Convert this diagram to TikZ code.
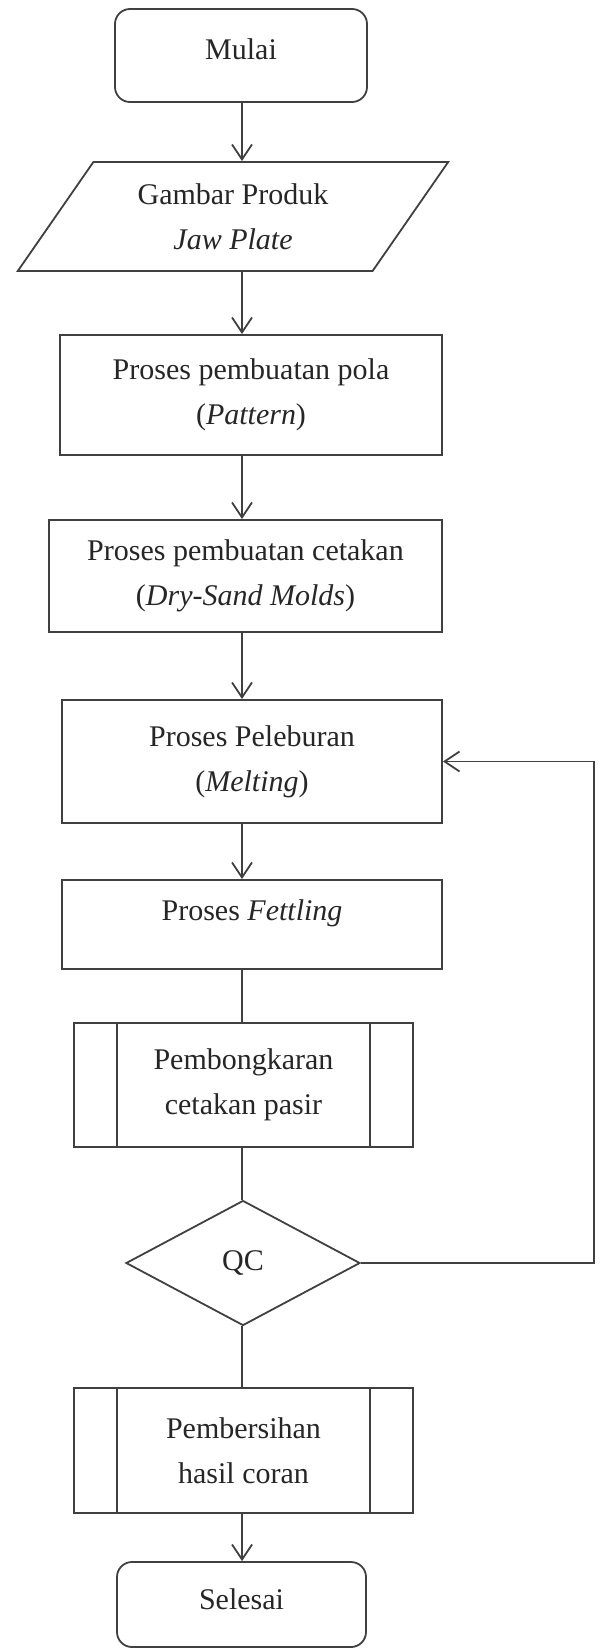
\documentclass[tikz,border=0pt]{standalone}
\usepackage{fontspec}
\setmainfont{Liberation Serif}
\usetikzlibrary{shapes.geometric,arrows.meta}

\begin{document}
\begin{tikzpicture}
  [x=1pt,y=-1pt,line width=1.8pt,color=black!75,
   every node/.style={draw=black!75,line width=1.8pt,inner sep=0pt,align=center,
     text=black!85,font=\fontsize{30}{45}\selectfont},
   term/.style={rectangle,rounded corners=15pt},
   io/.style={trapezium,trapezium left angle=52,trapezium right angle=128,trapezium stretches=true},
   proc/.style={rectangle},
   subproc/.style={rectangle,path picture={
     \draw ([xshift=43pt]path picture bounding box.north west) -- ([xshift=43pt]path picture bounding box.south west)
           ([xshift=-43pt]path picture bounding box.north east) -- ([xshift=-43pt]path picture bounding box.south east);}},
   decision/.style={diamond},
   arr/.style={-{Straight Barb[length=15pt,width=20pt]}}]
  \useasboundingbox (0,0) rectangle (602,1649);

  \coordinate (spine) at (242,0);
  \coordinate (loop) at (594,0);

  \node[term,minimum width=252pt,minimum height=93pt,text depth=12pt] (mulai) at (241,55.5) {Mulai};
  \node[io,minimum width=432pt,minimum height=109pt] (gambar) at (233,216.5) {Gambar Produk\\\textit{Jaw Plate}};
  \node[proc,minimum width=382pt,minimum height=120pt] (pola) at (251,395) {Proses pembuatan pola\\(\textit{Pattern})};
  \node[proc,minimum width=393pt,minimum height=112pt] (cetakan) at (245.5,576) {Proses pembuatan cetakan\\(\textit{Dry-Sand Molds})};
  \node[proc,minimum width=380pt,minimum height=123pt] (lebur) at (252,761.5) {Proses Peleburan\\(\textit{Melting})};
  \node[proc,minimum width=380pt,minimum height=89pt,text depth=28pt] (fettling) at (252,924.5) {Proses \textit{Fettling}};
  \node[subproc,minimum width=339pt,minimum height=124pt] (bongkar) at (243.5,1085) {Pembongkaran\\cetakan pasir};
  \node[decision,minimum width=234pt,minimum height=125pt] (qc) at (243,1263) {QC};
  \node[subproc,minimum width=339pt,minimum height=125pt] (bersih) at (243.5,1450.5) {Pembersihan\\hasil coran};
  \node[term,minimum width=249pt,minimum height=85pt,text depth=10pt] (selesai) at (241.5,1604.5) {Selesai};

  \foreach \from/\to in {mulai/gambar,gambar/pola,pola/cetakan,cetakan/lebur,lebur/fettling,bersih/selesai}
    \draw[arr] (\from.south -| spine) -- (\to.north -| spine);
  \foreach \from/\to in {fettling/bongkar,bongkar/qc,qc/bersih}
    \draw (\from.south -| spine) -- (\to.north -| spine);

  \draw[arr] (qc.east) -- (qc.east -| loop) -- (loop |- lebur.east) -- (lebur.east);

\end{tikzpicture}
\end{document}
